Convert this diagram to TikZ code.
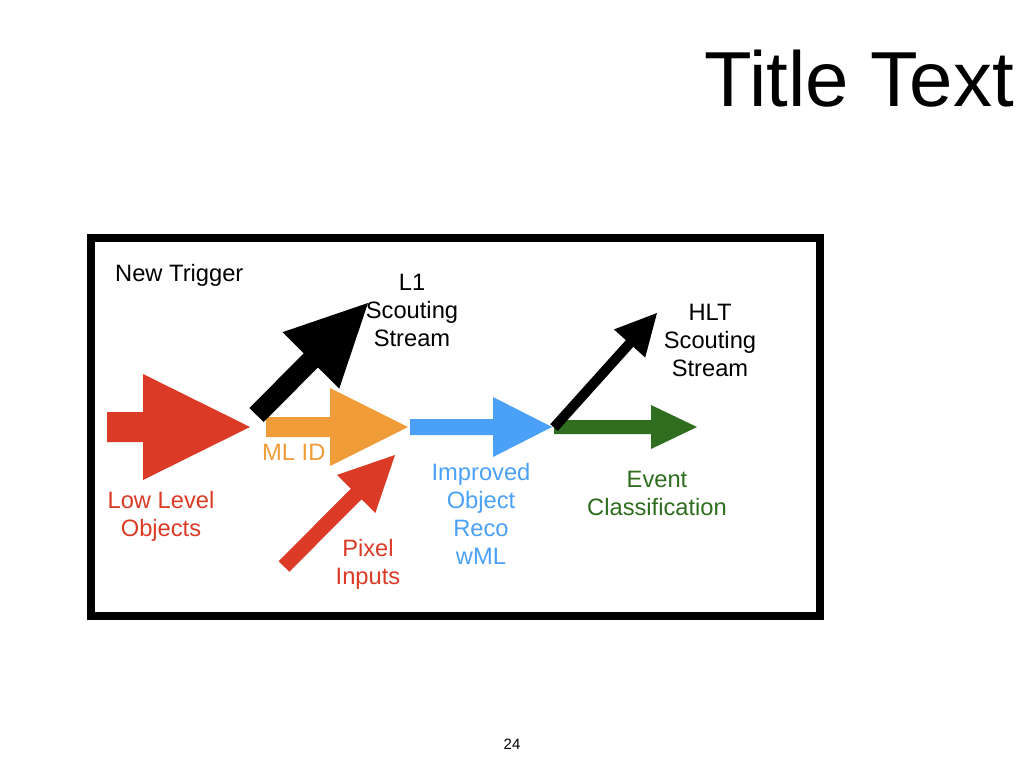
\documentclass[tikz,border=0pt]{standalone}
\usepackage{fontspec}
\setmainfont{Liberation Sans}
\usetikzlibrary{calc}

\definecolor{llred}{RGB}{219,59,38}
\definecolor{mlorange}{RGB}{240,156,56}
\definecolor{recoblue}{RGB}{74,161,247}
\definecolor{evgreen}{RGB}{46,110,30}

% Block arrow from tail #2 to tip #3: #4 half shaft width, #5 half head width, #6 head length
\newcommand\fatarrow[6]{%
  \coordinate (hb) at ($(#3)!#6!(#2)$);
  \fill[#1] ($(#2)!#4!90:(#3)$) -- ($(hb)!#4!90:(#3)$) -- ($(hb)!#5!90:(#3)$)
    -- (#3) -- ($(hb)!#5!-90:(#3)$) -- ($(hb)!#4!-90:(#3)$) -- ($(#2)!#4!-90:(#3)$) -- cycle;}

% multi-line labels are placed by the baseline of their last line
\tikzset{
  lbl/.style={inner sep=0pt, anchor=base, align=center,
    font=\fontsize{23.7}{28}\selectfont},
}

\begin{document}
\begin{tikzpicture}[x=1pt,y=-1pt]
\useasboundingbox[fill=white] (0,0) rectangle (1024,768);

% title and page number
\node[inner sep=0pt, anchor=base east, font=\fontsize{78}{82}\selectfont] (title) at (1014,106) {Title Text};
\node[inner sep=0pt, anchor=base, font=\fontsize{15}{17}\selectfont] (pagenum) at (512,749) {24};

% frame
\draw[line width=8pt] (90.5,238) rectangle (820,616);
\node[lbl, anchor=base west] (newtrig) at (115,281) {New Trigger};

% arrow end points
\coordinate (lloT) at (107,427);   \coordinate (lloH) at (250,427);
\coordinate (mlT) at (266,427);    \coordinate (mlH) at (408,427);
\coordinate (recoT) at (410,427);  \coordinate (recoH) at (552,427);
\coordinate (evT) at (554,427);    \coordinate (evH) at (697,427);
\coordinate (pixT) at (284,566.5); \coordinate (pixH) at (395,455);
\coordinate (lonT) at (256.5,415); \coordinate (lonH) at (368,303);
\coordinate (hltT) at (554,427.5); \coordinate (hltH) at (657,313);

\fatarrow{llred}{lloT}{lloH}{15pt}{53pt}{107pt}
\fatarrow{mlorange}{mlT}{mlH}{10pt}{39pt}{78pt}
\fatarrow{recoblue}{recoT}{recoH}{8pt}{30pt}{59pt}
\fatarrow{evgreen}{evT}{evH}{7pt}{22pt}{46pt}
\fatarrow{llred}{pixT}{pixH}{7.5pt}{27pt}{55pt}
\fatarrow{black}{lonT}{lonH}{10pt}{40pt}{81pt}
\fatarrow{black}{hltT}{hltH}{5pt}{21pt}{41pt}

% labels
\node[lbl] (l1) at (412,346) {L1\\Scouting\\Stream};
\node[lbl] (hlt) at (710,376) {HLT\\Scouting\\Stream};
\node[lbl, anchor=base west, text=mlorange] (mlid) at (262,460) {ML ID};
\node[lbl, text=llred] (llo) at (161,536) {Low Level\\Objects};
\node[lbl, text=llred] (pix) at (368,584) {Pixel\\Inputs};
\node[lbl, text=recoblue] (reco) at (481,564) {Improved\\Object\\Reco\\wML};
\node[lbl, text=evgreen] (ev) at (657,515) {Event\\Classification};
\end{tikzpicture}
\end{document}
